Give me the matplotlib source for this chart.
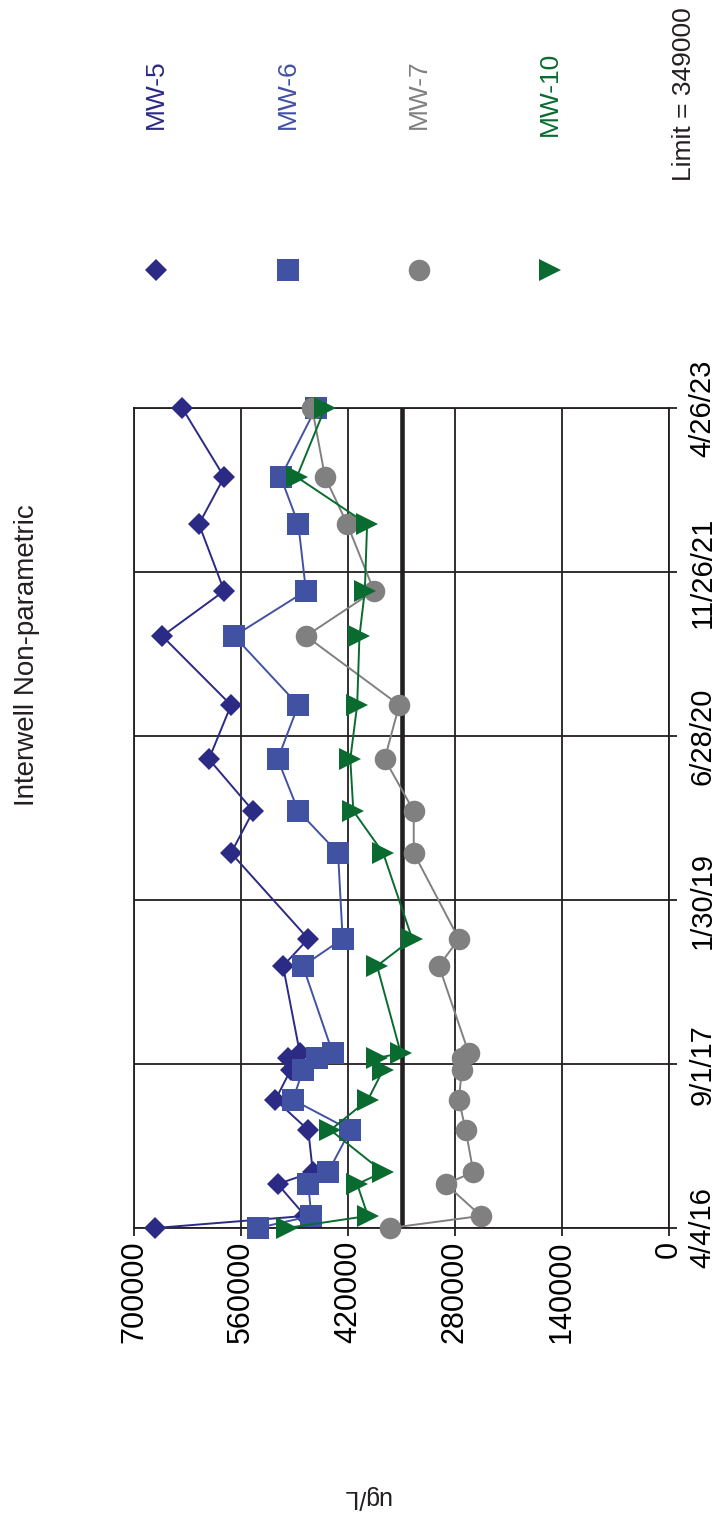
import matplotlib

matplotlib.use("Agg")
import matplotlib.dates as mdates
import matplotlib.pyplot as plt
import pandas as pd

plt.rcParams["font.family"] = ["Liberation Sans", "DejaVu Sans"]

# sampling dates
DATES = [
    "2016-04-04", "2016-05-12", "2016-08-20", "2016-09-27", "2017-02-06",
    "2017-05-12", "2017-08-14", "2017-09-20", "2017-10-06", "2018-07-07",
    "2018-09-30", "2019-06-27", "2019-11-06", "2020-04-17", "2020-10-04",
    "2021-05-09", "2021-09-28", "2022-04-26", "2022-09-21", "2023-04-26",
]

MW5 = [672000, 476000, 512000, 466000, 472000, 515000, 495000, 498000, 483000, 505000,
       472000, 573000, 544000, 602000, 573000, 663000, 582000, 615000, 582000, 637000]
MW6 = [538000, 468000, 472000, 446000, 417000, 492000, 479000, 461000, 440000, 479000,
       427000, 433000, 485000, 512000, 485000, 569000, 475000, 485000, 508000, 462000]
MW7 = [365000, 246000, 292000, 256000, 266000, 275000, 271000, 271000, 262000, 301000,
       275000, 334000, 334000, 372000, 353000, 475000, 386000, 421000, 450000, 467000]
MW10 = [500000, 394000, 408000, 374000, 443000, 394000, 374000, 382000, 351000, 382000,
        336000, 374000, 413000, 417000, 408000, 405000, 398000, 395000, 487000, 450000]

LIMIT = 349000
VALUE_TICKS = [0, 140000, 280000, 420000, 560000, 700000]
DATE_TICKS = ["2016-04-04", "2017-09-01", "2019-01-30", "2020-06-28", "2021-11-26", "2023-04-26"]
DATE_LABELS = ["4/4/16", "9/1/17", "1/30/19", "6/28/20", "11/26/21", "4/26/23"]

SERIES = [
    ("MW-5", MW5, "D", 11.2, "#2b2a84"),
    ("MW-6", MW6, "s", 15.5, "#4152a3"),
    ("MW-7", MW7, "o", 15.5, "#808080"),
    ("MW-10", MW10, ">", 16.0, "#0a6b30"),
]
INK = "#231f20"

W, H = 724, 1525
fig = plt.figure(figsize=(W / 100, H / 100), dpi=100)

# chart is drawn turned a quarter turn: values run right-to-left, time runs upward
left, right, top, bottom = 134, 669, 408, 1228
ax = fig.add_axes([left / W, 1 - bottom / H, (right - left) / W, (bottom - top) / H])

dates = mdates.date2num(pd.to_datetime(DATES))
for name, vals, marker, ms, color in SERIES:
    ax.plot(vals, dates, color=color, lw=1.4, marker=marker, ms=ms,
            markeredgewidth=0, zorder=3, clip_on=False)

ax.axvline(LIMIT, color=INK, lw=3.3, zorder=2)

ax.set_xlim(700000, 0)
ax.set_ylim(mdates.date2num(pd.Timestamp("2016-04-04")), mdates.date2num(pd.Timestamp("2023-04-26")))
ax.set_xticks(VALUE_TICKS)
ax.set_xticklabels([str(v) for v in VALUE_TICKS], rotation=90, fontsize=22)
ax.set_yticks(mdates.date2num(pd.to_datetime(DATE_TICKS)))
ax.set_yticklabels(DATE_LABELS, rotation=90, fontsize=21, va="center")
ax.yaxis.tick_right()
ax.tick_params(axis="x", direction="out", length=6, width=1.3, color=INK, pad=3)
ax.tick_params(axis="y", direction="out", length=6, width=1.3, color=INK, pad=8)
ax.grid(True, color=INK, lw=1.3, zorder=1)
for sp in ax.spines.values():
    sp.set_color(INK)
    sp.set_linewidth(1.3)

fig.text(27 / W, 1 - 655 / H, "Interwell Non-parametric", rotation=90,
         ha="center", va="center", fontsize=20, color=INK)
fig.text(366 / W, 1 - 1497 / H, "ug/L", rotation=180, ha="center", va="center",
         fontsize=18, color=INK)

# legend, laid out by hand so the labels can stand upright with the chart
lax = fig.add_axes([0, 1 - 330 / H, 1, 330 / H])
lax.set_xlim(0, W)
lax.set_ylim(330, 0)
lax.axis("off")
legend_x = [156, 288, 419, 550]
for (name, vals, marker, ms, color), lx in zip(SERIES, legend_x):
    lax.plot([lx], [270], marker=marker, ms=ms, color=color, markeredgewidth=0)
    lax.text(lx, 94, name, rotation=90, ha="center", va="center", fontsize=19, color=color)
lax.text(684, 94, f"Limit = {LIMIT}", rotation=90, ha="center", va="center",
         fontsize=19, color=INK)

fig.savefig("out.png", dpi=100)
